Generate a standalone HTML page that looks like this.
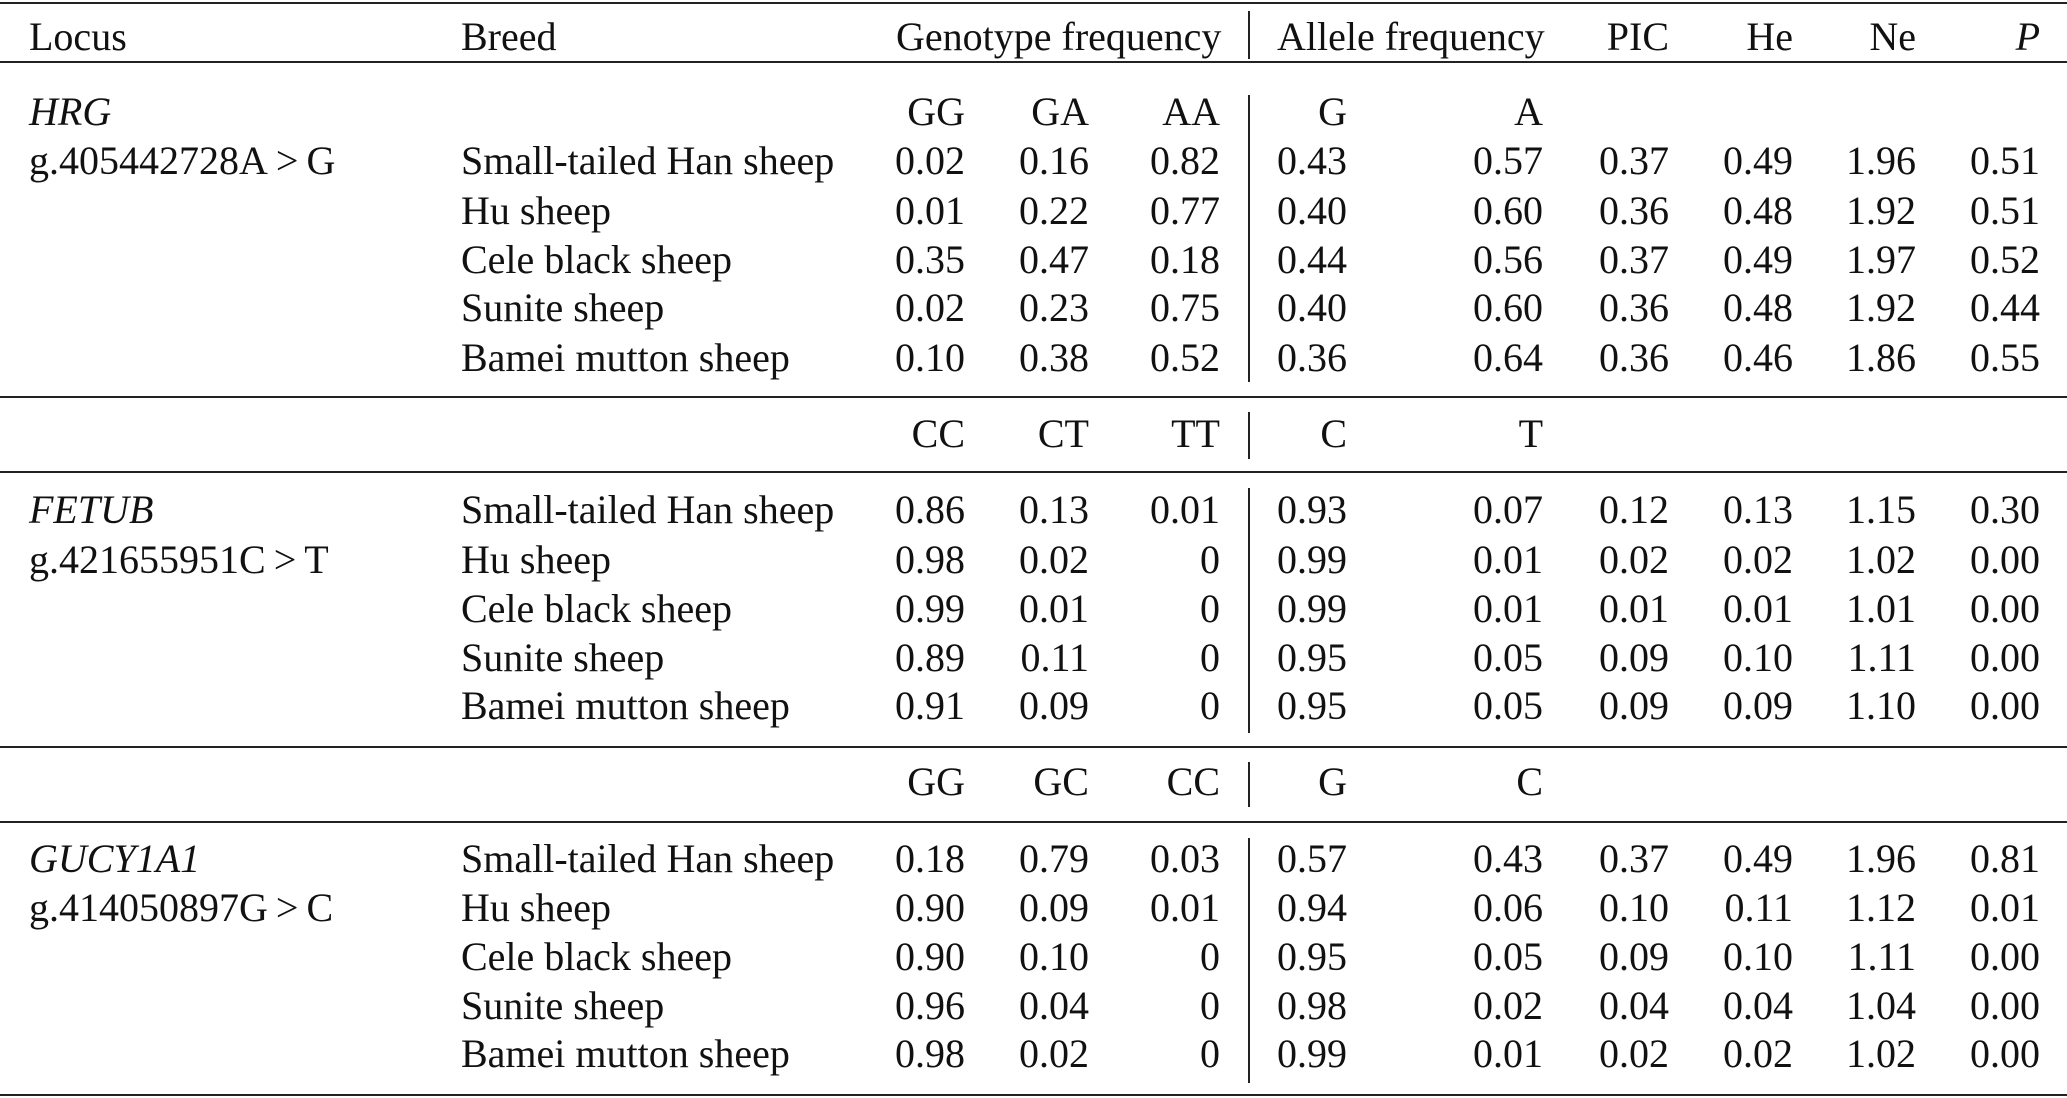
<!DOCTYPE html>
<html><head><meta charset="utf-8"><style>
body{margin:0;background:#fff;}
#c{position:relative;width:2067px;height:1098px;overflow:hidden;background:#fff;font-family:"Liberation Serif",serif;font-size:40px;color:#111;}
.t{position:absolute;height:44px;line-height:44px;white-space:nowrap;}
.r{text-align:right;}
.h{position:absolute;left:0;width:2067px;height:2px;background:#222;}
.v{position:absolute;left:1248px;width:2px;background:#222;}
i{font-style:italic;}
</style></head><body><div id="c">
<div class="h" style="top:2px"></div>
<div class="h" style="top:61px"></div>
<div class="h" style="top:396px"></div>
<div class="h" style="top:471px"></div>
<div class="h" style="top:746px"></div>
<div class="h" style="top:821px"></div>
<div class="h" style="top:1094px"></div>
<div class="v" style="top:11px;height:48px"></div>
<div class="v" style="top:95px;height:287px"></div>
<div class="v" style="top:412px;height:47px"></div>
<div class="v" style="top:488px;height:245px"></div>
<div class="v" style="top:762px;height:45px"></div>
<div class="v" style="top:838px;height:245px"></div>
</div>
<script>
var c=document.getElementById('c');
function L(x,y,s){var d=document.createElement('div');d.className='t';d.style.left=x+'px';d.style.top=(y-22)+'px';d.innerHTML=s;c.appendChild(d);}
function R(x,y,s){var d=document.createElement('div');d.className='t r';d.style.left=(x-300)+'px';d.style.width='300px';d.style.top=(y-22)+'px';d.innerHTML=s;c.appendChild(d);}
L(29,37,'Locus');L(461,37,'Breed');L(896,37,'Genotype frequency');L(1277,37,'Allele frequency');
R(1669,37,'PIC');R(1793,37,'He');R(1916,37,'Ne');R(2040,37,'<i>P</i>');
var cols=[965,1089,1220,1347,1543,1669,1793,1916,2040];
var breeds=['Small-tailed Han sheep','Hu sheep','Cele black sheep','Sunite sheep','Bamei mutton sheep'];
function sec(hy,hdr,ys,data){
 for(var k=0;k<5;k++)R(cols[k],hy,hdr[k]);
 for(var i=0;i<5;i++){L(461,ys[i],breeds[i]);for(var j=0;j<9;j++){if(j==3)L(1277,ys[i],data[i][j]);else R(cols[j],ys[i],data[i][j]);}}
}
L(29,112,'<i>HRG</i>');L(29,161,'g.405442728A&thinsp;&gt;&thinsp;G');
sec(112,['GG','GA','AA','G','A'],[161,211,260,308,358],[
['0.02','0.16','0.82','0.43','0.57','0.37','0.49','1.96','0.51'],
['0.01','0.22','0.77','0.40','0.60','0.36','0.48','1.92','0.51'],
['0.35','0.47','0.18','0.44','0.56','0.37','0.49','1.97','0.52'],
['0.02','0.23','0.75','0.40','0.60','0.36','0.48','1.92','0.44'],
['0.10','0.38','0.52','0.36','0.64','0.36','0.46','1.86','0.55']]);
L(29,510,'<i>FETUB</i>');L(29,560,'g.421655951C&thinsp;&gt;&thinsp;T');
sec(434,['CC','CT','TT','C','T'],[510,560,609,658,706],[
['0.86','0.13','0.01','0.93','0.07','0.12','0.13','1.15','0.30'],
['0.98','0.02','0','0.99','0.01','0.02','0.02','1.02','0.00'],
['0.99','0.01','0','0.99','0.01','0.01','0.01','1.01','0.00'],
['0.89','0.11','0','0.95','0.05','0.09','0.10','1.11','0.00'],
['0.91','0.09','0','0.95','0.05','0.09','0.09','1.10','0.00']]);
L(29,859,'<i>GUCY1A1</i>');L(29,908,'g.414050897G&thinsp;&gt;&thinsp;C');
sec(782,['GG','GC','CC','G','C'],[859,908,957,1006,1054],[
['0.18','0.79','0.03','0.57','0.43','0.37','0.49','1.96','0.81'],
['0.90','0.09','0.01','0.94','0.06','0.10','0.11','1.12','0.01'],
['0.90','0.10','0','0.95','0.05','0.09','0.10','1.11','0.00'],
['0.96','0.04','0','0.98','0.02','0.04','0.04','1.04','0.00'],
['0.98','0.02','0','0.99','0.01','0.02','0.02','1.02','0.00']]);
</script>
</body></html>
